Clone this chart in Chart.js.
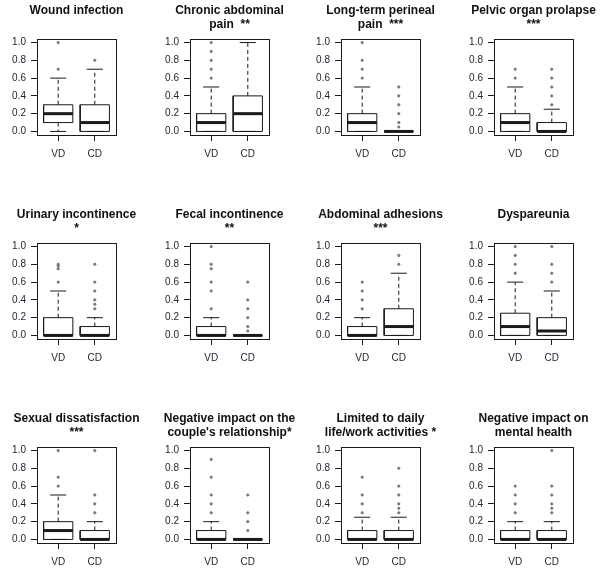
<!DOCTYPE html>
<html><head><meta charset="utf-8">
<script src="https://cdn.jsdelivr.net/npm/chart.js@4.4.0/dist/chart.umd.min.js"></script>
<style>
html,body{margin:0;padding:0;background:#fff;}
#wrap{position:relative;width:600px;height:573px;overflow:hidden;background:#fff;}
canvas{position:absolute;}
</style></head><body><div id="wrap"></div>
<script>
const categories = ["VD", "CD"];
const titles = [
  ["Wound infection", ""],
  ["Chronic abdominal", "pain  **"],
  ["Long-term perineal", "pain  ***"],
  ["Pelvic organ prolapse", "***"],
  ["Urinary incontinence", "*"],
  ["Fecal incontinence", "**"],
  ["Abdominal adhesions", "***"],
  ["Dyspareunia", ""],
  ["Sexual dissatisfaction", "***"],
  ["Negative impact on the", "couple's relationship*"],
  ["Limited to daily", "life/work activities *"],
  ["Negative impact on", "mental health"]
];
const yTickValues = [0, 0.2, 0.4, 0.6, 0.8, 1.0];
const yTickLabels = ["0.0", "0.2", "0.4", "0.6", "0.8", "1.0"];

// VD box statistics per panel
const vdLow  = [0, 0, 0, 0, 0, 0, 0, 0, 0, 0, 0, 0];
const vdQ1   = [0.1, 0, 0, 0, 0, 0, 0, 0, 0, 0, 0, 0];
const vdMed  = [0.2, 0.1, 0.1, 0.1, 0, 0, 0, 0.1, 0.1, 0, 0, 0];
const vdQ3   = [0.3, 0.2, 0.2, 0.2, 0.2, 0.1, 0.1, 0.25, 0.2, 0.1, 0.1, 0.1];
const vdHigh = [0.6, 0.5, 0.5, 0.5, 0.5, 0.2, 0.2, 0.6, 0.5, 0.2, 0.25, 0.2];
const vdOut  = [
  [0.7, 1.0], [0.6, 0.7, 0.8, 0.9, 1.0], [0.6, 0.7, 0.8, 1.0], [0.6, 0.7],
  [0.6, 0.75, 0.78, 0.8], [0.3, 0.5, 0.6, 0.75, 0.8, 1.0], [0.3, 0.4, 0.5, 0.6], [0.7, 0.8, 0.9, 1.0],
  [0.6, 0.7, 1.0], [0.3, 0.4, 0.5, 0.7, 0.9], [0.3, 0.4, 0.5, 0.7], [0.3, 0.4, 0.5, 0.6]
];
// CD box statistics per panel
const cdLow  = [0, 0, 0, 0, 0, 0, 0, 0, 0, 0, 0, 0];
const cdQ1   = [0, 0, 0, 0, 0, 0, 0, 0, 0, 0, 0, 0];
const cdMed  = [0.1, 0.2, 0, 0, 0, 0, 0.1, 0.05, 0, 0, 0, 0];
const cdQ3   = [0.3, 0.4, 0, 0.1, 0.1, 0, 0.3, 0.2, 0.1, 0, 0.1, 0.1];
const cdHigh = [0.7, 1.0, 0, 0.25, 0.2, 0, 0.7, 0.5, 0.2, 0, 0.25, 0.2];
const cdOut  = [
  [0.8], [], [0.05, 0.1, 0.2, 0.3, 0.4, 0.5], [0.3, 0.4, 0.5, 0.6, 0.7],
  [0.3, 0.35, 0.4, 0.5, 0.6, 0.8], [0.05, 0.1, 0.2, 0.3, 0.4, 0.6], [0.8, 0.9], [0.6, 0.7, 0.8, 1.0],
  [0.3, 0.4, 0.5, 1.0], [0.1, 0.2, 0.3, 0.5], [0.3, 0.35, 0.4, 0.5, 0.6, 0.8], [0.3, 0.35, 0.4, 0.5, 0.6, 1.0]
];

// layout (pixels)
const plotLefts = [37, 190, 341, 494];
const plotTops = [39, 243, 447];
const PW = 79, PH = 96, SIDE = 45, TITLE_H = 39, XAX_H = 30;
const FONT = "'Liberation Sans', Arial, Helvetica, sans-serif";
const LINE = '#1a1a1a';
const TXT = '#1f1f2e';

function groupDatasets(x, lo, q1, med, q3, hi, outs) {
  const hw = 0.4, cw = 0.22;
  const line = (pts, extra) => Object.assign({
    type: 'scatter', data: pts, showLine: true, pointRadius: 0, pointHoverRadius: 0,
    borderColor: LINE, borderWidth: 1, fill: false, tension: 0
  }, extra || {});
  return [
    line([{x: x - hw, y: med}, {x: x + hw, y: med}], {borderWidth: 3}),
    line([{x: x - hw, y: q1}, {x: x + hw, y: q1}, {x: x + hw, y: q3}, {x: x - hw, y: q3}, {x: x - hw, y: q1}]),
    line([{x: x, y: q3}, {x: x, y: hi}], {borderDash: [4, 3]}),
    line([{x: x, y: q1}, {x: x, y: lo}], {borderDash: [4, 3]}),
    line([{x: x - cw, y: hi}, {x: x + cw, y: hi}]),
    line([{x: x - cw, y: lo}, {x: x + cw, y: lo}]),
    {type: 'scatter', data: outs.map(v => ({x: x, y: v})), showLine: false,
     pointRadius: 1.1, pointBorderWidth: 1, pointBorderColor: '#6a6a6a',
     pointBackgroundColor: '#8a8a8a'}
  ];
}

const wrap = document.getElementById('wrap');
for (let i = 0; i < 12; i++) {
  const r = Math.floor(i / 4), c = i % 4;
  const cv = document.createElement('canvas');
  const W = SIDE * 2 + PW, H = TITLE_H + PH + XAX_H;
  cv.width = W; cv.height = H;
  cv.style.left = (plotLefts[c] - SIDE) + 'px';
  cv.style.top = (plotTops[r] - TITLE_H) + 'px';
  cv.style.width = W + 'px'; cv.style.height = H + 'px';
  wrap.appendChild(cv);
  const datasets = [].concat(
    groupDatasets(1, vdLow[i], vdQ1[i], vdMed[i], vdQ3[i], vdHigh[i], vdOut[i]),
    groupDatasets(2, cdLow[i], cdQ1[i], cdMed[i], cdQ3[i], cdHigh[i], cdOut[i])
  );
  new Chart(cv, {
    type: 'scatter',
    data: {datasets: datasets},
    options: {
      responsive: false, animation: false, devicePixelRatio: 1,
      layout: {padding: 0},
      plugins: {
        legend: {display: false}, tooltip: {enabled: false},
        title: {display: true, text: titles[i], color: '#111',
          font: {family: FONT, size: 12, weight: 'bold', lineHeight: 14 / 12},
          padding: {top: 3.8, bottom: 7.2}}
      },
      scales: {
        x: {type: 'linear', position: 'bottom', min: 0.42, max: 2.58,
          afterBuildTicks: s => { s.ticks = categories.map((_, k) => ({value: k + 1})); },
          afterFit: s => { s.height = XAX_H; },
          ticks: {callback: v => categories[Math.round(v) - 1], color: TXT, font: {family: FONT, size: 10},
            padding: 7, autoSkip: false, maxRotation: 0},
          grid: {display: true, drawOnChartArea: false, drawTicks: true, tickLength: 6, color: LINE},
          border: {display: true, color: LINE}},
        y: {type: 'linear', position: 'left', min: -0.04, max: 1.04,
          afterBuildTicks: s => { s.ticks = yTickValues.map(v => ({value: v})); },
          afterFit: s => { s.width = SIDE; },
          ticks: {callback: (v, k) => yTickLabels[k], color: TXT, font: {family: FONT, size: 10}, padding: 5},
          grid: {display: true, drawOnChartArea: false, drawTicks: true, tickLength: 6, color: LINE},
          border: {display: true, color: LINE}},
        yr: {type: 'linear', position: 'right', min: 0, max: 1,
          afterFit: s => { s.width = SIDE; },
          ticks: {display: false}, grid: {display: false, drawTicks: false},
          border: {display: true, color: LINE}},
        xt: {type: 'linear', position: 'top', min: 0, max: 1,
          afterFit: s => { s.height = 0; },
          ticks: {display: false}, grid: {display: false, drawTicks: false},
          border: {display: true, color: LINE}}
      }
    }
  });
}
</script></body></html>
